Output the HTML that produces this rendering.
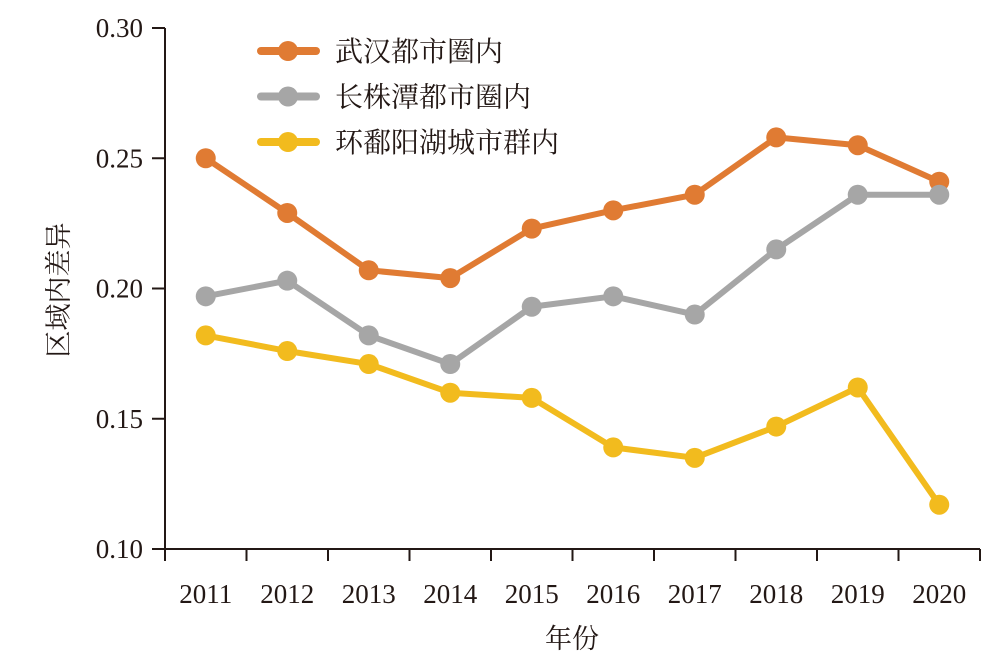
<!DOCTYPE html>
<html><head><meta charset="utf-8"><style>
body{margin:0;background:#fff}
svg{display:block}
text{font-family:"Liberation Serif","Noto Serif CJK SC",serif;fill:#231815}
</style></head><body>
<svg id="chart" width="994" height="665" viewBox="0 0 994 665"></svg>
<script>
const categories=["2011","2012","2013","2014","2015","2016","2017","2018","2019","2020"];
const wuhan=[0.250,0.229,0.207,0.204,0.223,0.230,0.236,0.258,0.255,0.241];
const changzhutan=[0.197,0.203,0.182,0.171,0.193,0.197,0.190,0.215,0.236,0.236];
const poyang=[0.182,0.176,0.171,0.160,0.158,0.139,0.135,0.147,0.162,0.117];
const yTicks=[0.10,0.15,0.20,0.25,0.30];
const seriesNames=["武汉都市圈内","长株潭都市圈内","环鄱阳湖城市群内"];
const colors=["#E07B33","#A6A6A6","#F2BB1E"];
const NS="http://www.w3.org/2000/svg";
const svg=document.getElementById('chart');
const x0=165,x1=980,yTop=28,yBot=549,yMin=0.10,yMax=0.30;
const band=(x1-x0)/categories.length;
const xs=i=>x0+band*(i+0.5);
const ys=v=>yBot-(v-yMin)/(yMax-yMin)*(yBot-yTop);
function el(tag,attrs,txt){const e=document.createElementNS(NS,tag);for(const k in attrs)e.setAttribute(k,attrs[k]);if(txt!=null)e.textContent=txt;svg.appendChild(e);return e;}
let a=el('line',{x1:x0,y1:yTop,x2:x0,y2:yBot+1,stroke:'#231815','stroke-width':2});


a=el('line',{x1:x0-1,y1:yBot,x2:x1,y2:yBot,stroke:'#231815','stroke-width':2});


yTicks.forEach(v=>{
  const t=el('line',{x1:x0-13,y1:ys(v),x2:x0,y2:ys(v),stroke:'#231815','stroke-width':2});
  
  
  const l=el('text',{x:x0-22,y:ys(v)+9,'text-anchor':'end','font-size':27},v.toFixed(2));
  
  
});
for(let i=0;i<=categories.length;i++){
  const t=el('line',{x1:x0+band*i,y1:yBot,x2:x0+band*i,y2:yBot+12,stroke:'#231815','stroke-width':2});
  
  
}
categories.forEach((c,i)=>{
  const l=el('text',{x:xs(i),y:603,'text-anchor':'middle','font-size':27},c);
  
  
});
let t=el('text',{x:572,y:648,'text-anchor':'middle','font-size':27},'年份');


t=el('text',{x:0,y:0,'text-anchor':'middle','font-size':27,transform:'translate(68,290) rotate(-90)'},'区域内差异');


[wuhan,changzhutan,poyang].forEach((s,k)=>{
  const p=el('polyline',{points:s.map((v,i)=>xs(i)+','+ys(v)).join(' '),fill:'none',stroke:colors[k],'stroke-width':6,'stroke-linejoin':'round'});
  
  
  s.forEach((v,i)=>{
    const c=el('circle',{cx:xs(i),cy:ys(v),r:10,fill:colors[k]});
    
    
  });
  const ly=51+k*45.5;
  const ll=el('line',{x1:261,y1:ly,x2:316,y2:ly,stroke:colors[k],'stroke-width':8,'stroke-linecap':'round'});
  
  
  const lc=el('circle',{cx:288,cy:ly,r:10,fill:colors[k]});
  
  
  const lt=el('text',{x:335,y:ly+10,'font-size':28},seriesNames[k]);
  
  
});
</script>
</body></html>
